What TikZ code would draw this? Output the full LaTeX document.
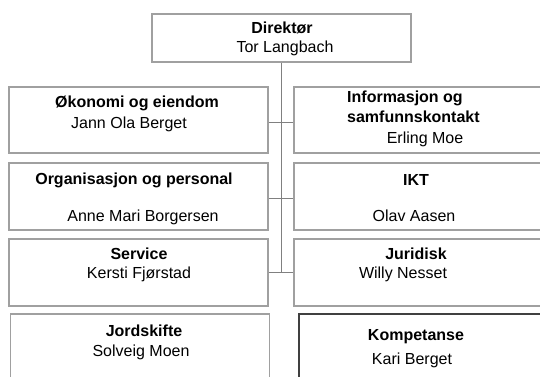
\documentclass[tikz,border=0pt]{standalone}
\usepackage{fontspec}
\setmainfont{Liberation Sans}
\definecolor{boxgray}{HTML}{A0A0A0}
\definecolor{linegray}{HTML}{808080}
\definecolor{darkb}{HTML}{404040}
\begin{document}
\begin{tikzpicture}[x=1bp,y=-1bp,
  box/.style={draw=boxgray,line width=1.3bp,rectangle,minimum width=259bp,inner sep=0pt},
  dbox/.style={box,draw=darkb},
  conn/.style={draw=linegray,line width=1bp},
  hd/.style={font=\fontsize{16bp}{18bp}\selectfont\bfseries,inner sep=0pt,text height=11.6bp,text depth=0bp},
  nm/.style={font=\fontsize{16bp}{18bp}\selectfont,inner sep=0pt,text height=11.6bp,text depth=0bp}]
\useasboundingbox (0,0) rectangle (540,376);
\clip (0,0) rectangle (540,376);
% boxes
\node[box,minimum height=48bp] (dir) at (281.5,38) {};
\node[box,minimum height=66bp] (okon) at (138.5,120) {};
\node[box,minimum height=66bp] (info) at (423.5,120) {};
\node[box,minimum height=67bp] (org) at (138.5,196.5) {};
\node[box,minimum height=67bp] (ikt) at (423.5,196.5) {};
\node[box,minimum height=67bp] (serv) at (138.5,272.5) {};
\node[box,minimum height=67bp] (jur) at (423.5,272.5) {};
\node[box,minimum height=67bp] (jord) at (140,347.5) {};
\node[dbox,minimum height=67bp] (komp) at (428.5,347.5) {};
% connectors
\draw[conn] (dir.south) -- (dir.south |- serv.east);
\draw[conn] ([yshift=-2bp]okon.east) -- ([yshift=-2bp]info.west);
\draw[conn] ([yshift=-2bp]org.east) -- ([yshift=-2bp]ikt.west);
\draw[conn] (serv.east) -- (jur.west);
% texts
\node[hd] (t1) at (282,28) {Direktør};
\node[nm] (n1) at (285,47) {Tor Langbach};
\node[hd] (t2) at (137,102) {Økonomi og eiendom};
\node[nm] (n2) at (129,123) {Jann Ola Berget};
\node[hd,anchor=west] (t3a) at (347,97) {Informasjon og};
\node[hd,anchor=west] (t3b) at (347,117) {samfunnskontakt};
\node[nm] (n3) at (425,138) {Erling Moe};
\node[hd] (t4) at (134,179) {Organisasjon og personal};
\node[nm] (n4) at (143,216) {Anne Mari Borgersen};
\node[hd] (t5) at (416,180) {IKT};
\node[nm] (n5) at (414,216) {Olav Aasen};
\node[hd] (t6) at (139,254) {Service};
\node[nm] (n6) at (139,273) {Kersti Fjørstad};
\node[hd] (t7) at (416,254) {Juridisk};
\node[nm] (n7) at (403,273) {Willy Nesset};
\node[hd] (t8) at (144,331) {Jordskifte};
\node[nm] (n8) at (141,351) {Solveig Moen};
\node[hd] (t9) at (416,335) {Kompetanse};
\node[nm] (n9) at (412,359) {Kari Berget};
\end{tikzpicture}
\end{document}
